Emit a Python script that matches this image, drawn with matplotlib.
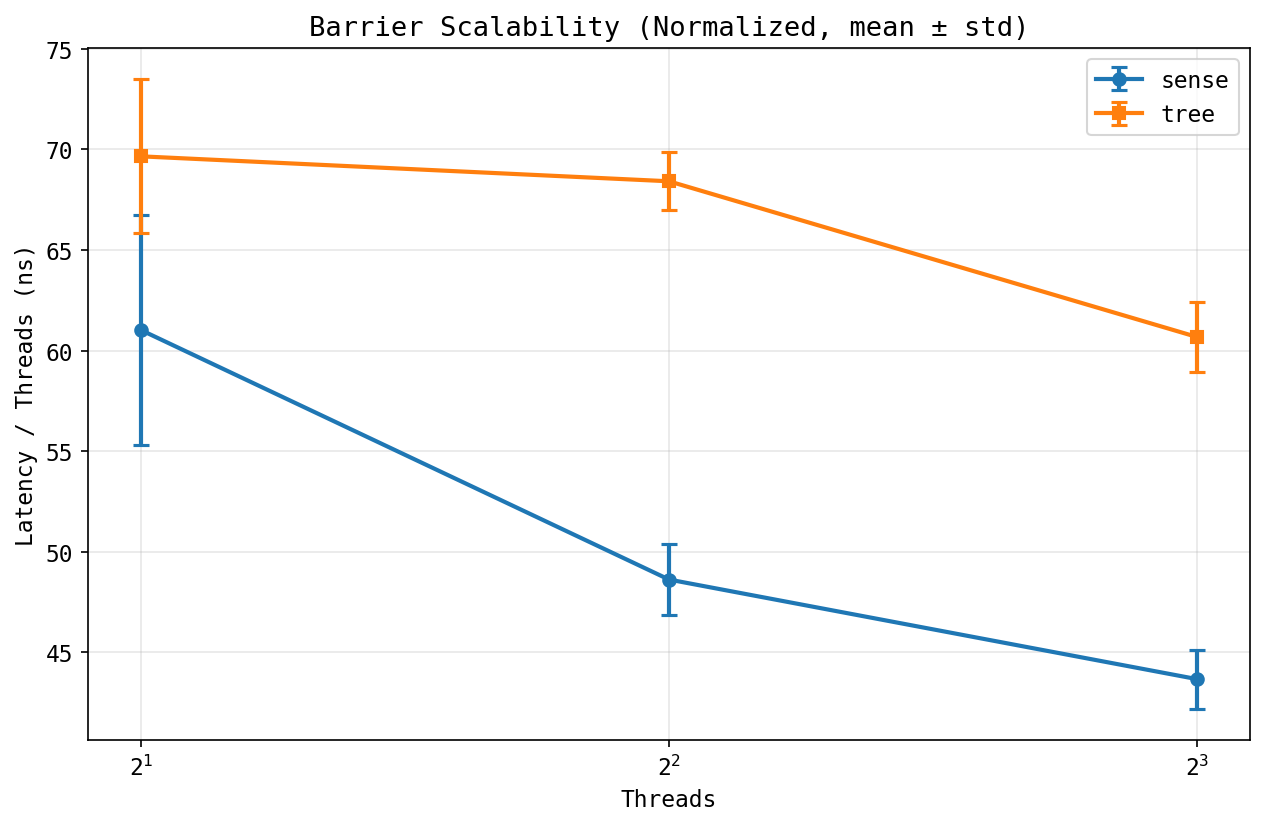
import matplotlib
matplotlib.use("Agg")
import matplotlib.pyplot as plt

plt.rcParams['font.family'] = ['DejaVu Sans Mono', 'DejaVu Sans']
plt.rcParams['font.size'] = 11

threads = [2, 4, 8]
sense_mean = [61.02, 48.62, 43.67]
sense_std = [5.70, 1.76, 1.46]
tree_mean = [69.65, 68.41, 60.67]
tree_std = [3.82, 1.44, 1.76]

fig = plt.figure(figsize=(1265/150, 828/150), dpi=150)
ax = fig.add_axes([88/1265, 1-741/828, (1250-88)/1265, (741-49)/828])

ax.errorbar(threads, sense_mean, yerr=sense_std, marker='o', capsize=4,
            linewidth=2, markersize=6, capthick=1.5, label='sense', color='#1f77b4')
ax.errorbar(threads, tree_mean, yerr=tree_std, marker='s', capsize=4,
            linewidth=2, markersize=6, capthick=1.5, label='tree', color='#ff7f0e')
ax.set_xscale('log', base=2)
ax.set_xticks(threads)
ax.set_xlabel('Threads')
ax.set_ylabel('Latency / Threads (ns)')
ax.set_title('Barrier Scalability (Normalized, mean ± std)', fontsize=13)
ax.grid(True, alpha=0.3)
ax.legend(loc='upper right')
fig.savefig('out.png', dpi=150)
